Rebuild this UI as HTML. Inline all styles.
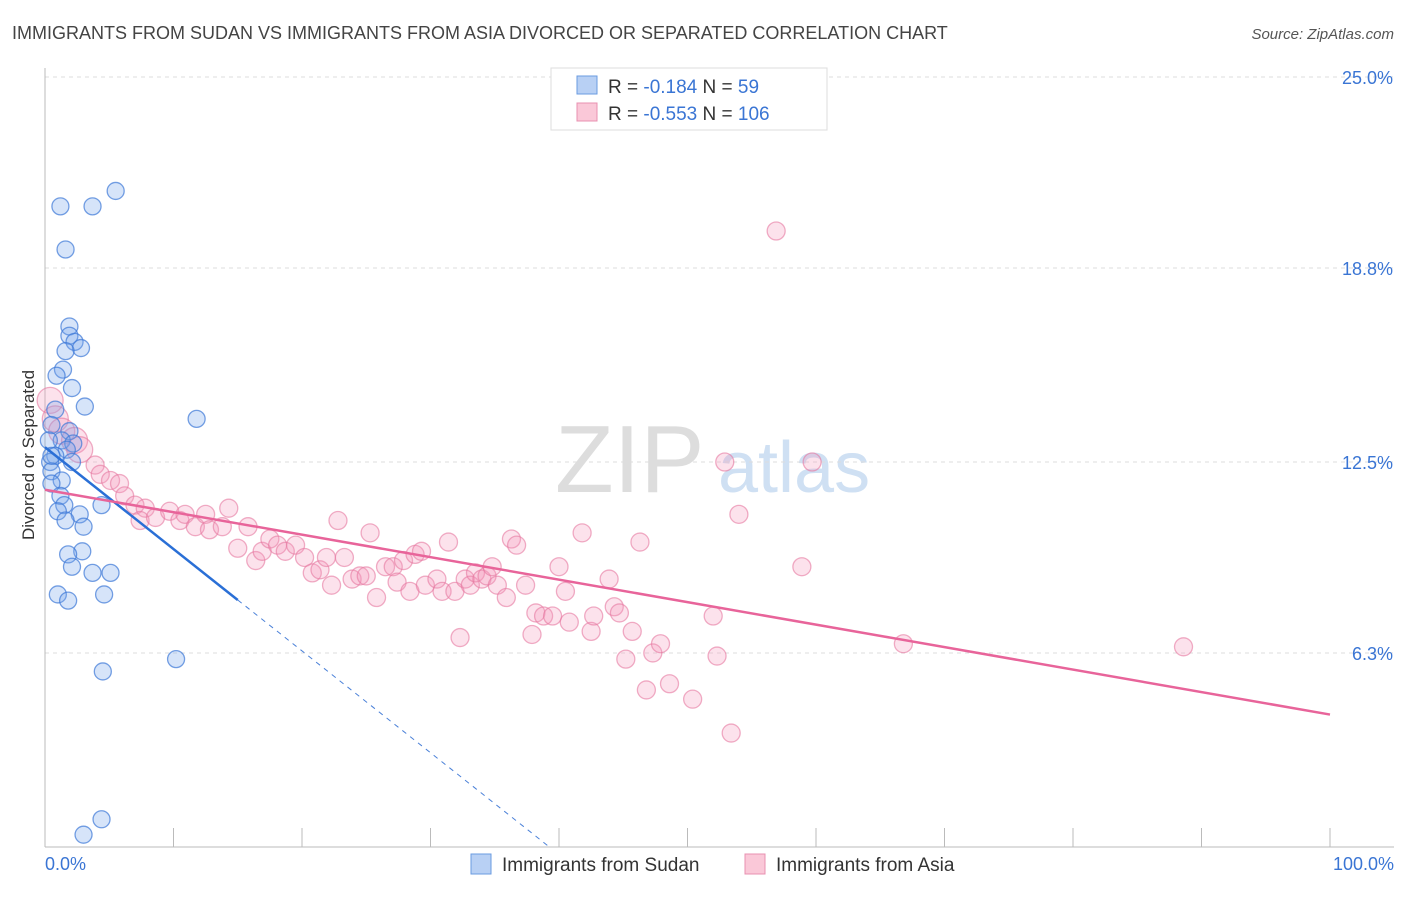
<!DOCTYPE html>
<html><head><meta charset="utf-8"><style>
body{margin:0;background:#fff;font-family:"Liberation Sans",sans-serif;}
svg text{font-family:"Liberation Sans",sans-serif;}
</style></head><body>
<svg id="chart" width="1406" height="892" xmlns="http://www.w3.org/2000/svg">
<text x="12" y="39" font-size="18" fill="#444">IMMIGRANTS FROM SUDAN VS IMMIGRANTS FROM ASIA DIVORCED OR SEPARATED CORRELATION CHART</text>
<text x="1394" y="39" font-size="15" fill="#555" text-anchor="end" font-style="italic">Source: ZipAtlas.com</text>
<text x="555" y="492" font-size="96" fill="#ddd" font-family="Liberation Serif">ZIP</text>
<text x="718" y="492" font-size="72" fill="#cfe0f3">atlas</text>
<g id="grid"></g>
<g id="axes"></g>
<g id="marks"></g>
<text transform="translate(34,455) rotate(-90)" font-size="17" fill="#333" text-anchor="middle">Divorced or Separated</text>
<g>
<rect x="551" y="68" width="276" height="62" fill="#fff" stroke="#ddd"/>
<rect x="577" y="76" width="20" height="18" fill="#b8d0f4" stroke="#6a9be0"/>
<rect x="577" y="103" width="20" height="18" fill="#fac8d8" stroke="#e890b0"/>
<text x="608" y="93" font-size="19" fill="#333">R = <tspan fill="#3a75d4">-0.184</tspan>   N = <tspan fill="#3a75d4"> 59</tspan></text>
<text x="608" y="120" font-size="19" fill="#333">R = <tspan fill="#3a75d4">-0.553</tspan>   N = <tspan fill="#3a75d4">106</tspan></text>
</g>
<g>
<rect x="471" y="854" width="20" height="20" fill="#b8d0f4" stroke="#6a9be0"/>
<text x="502" y="871" font-size="19" fill="#333">Immigrants from Sudan</text>
<rect x="745" y="854" width="20" height="20" fill="#fac8d8" stroke="#e890b0"/>
<text x="776" y="871" font-size="19" fill="#333">Immigrants from Asia</text>
</g>
</svg>
<script>
const yTicks=[25.0,18.8,12.5,6.3];
const yTickLabels=["25.0%","18.8%","12.5%","6.3%"];
const xTickLabels=["0.0%","100.0%"];
const sudanX=[5.5,1.2,3.7,1.6,1.9,1.9,2.3,2.8,1.6,1.4,0.9,2.1,3.1,0.8,0.5,1.9,1.3,2.2,1.7,0.8,0.4,2.1,0.5,1.3,0.5,1.2,1.5,1.0,4.4,2.7,1.6,3.0,2.9,1.8,2.1,3.7,5.1,1.0,1.8,4.6,11.8,10.2,4.5,4.4,3.0,0.3,0.5];
const sudanY=[21.3,20.8,20.8,19.4,16.9,16.6,16.4,16.2,16.1,15.5,15.3,14.9,14.3,14.2,13.7,13.5,13.2,13.1,12.9,12.7,12.5,12.5,12.2,11.9,11.8,11.4,11.1,10.9,11.1,10.8,10.6,10.4,9.6,9.5,9.1,8.9,8.9,8.2,8.0,8.2,13.9,6.1,5.7,0.9,0.4,13.2,12.7];
const asiaX=[56.9,52.9,59.7,54.0,58.9,66.8,88.6,0.4,0.8,1.3,2.3,2.7,3.9,4.3,5.1,5.8,6.2,7.0,7.8,7.4,8.6,9.7,10.5,10.9,11.7,12.5,12.8,13.8,14.3,15.0,15.8,16.4,16.9,17.5,18.1,18.7,19.5,20.2,20.8,21.4,21.9,22.3,22.8,23.3,23.9,24.5,25.0,25.3,25.8,26.5,27.1,27.4,27.9,28.4,28.8,29.3,29.6,30.5,30.9,31.4,31.9,32.3,32.7,33.1,33.5,34.0,34.4,34.8,35.2,35.9,36.3,36.7,37.4,37.9,38.2,38.8,39.5,40.0,40.5,40.8,41.8,42.5,42.7,43.9,44.3,44.7,45.2,45.7,46.3,46.8,47.3,47.9,48.6,50.4,52.0,52.3,53.4];
const asiaY=[20.0,12.5,12.5,10.8,9.1,6.6,6.5,14.5,13.9,13.5,13.2,12.9,12.4,12.1,11.9,11.8,11.4,11.1,11.0,10.6,10.7,10.9,10.6,10.8,10.4,10.8,10.3,10.4,11.0,9.7,10.4,9.3,9.6,10.0,9.8,9.6,9.8,9.4,8.9,9.0,9.4,8.5,10.6,9.4,8.7,8.8,8.8,10.2,8.1,9.1,9.1,8.6,9.3,8.3,9.5,9.6,8.5,8.7,8.3,9.9,8.3,6.8,8.7,8.5,8.9,8.7,8.8,9.1,8.5,8.1,10.0,9.8,8.5,6.9,7.6,7.5,7.5,9.1,8.3,7.3,10.2,7.0,7.5,8.7,7.8,7.6,6.1,7.0,9.9,5.1,6.3,6.6,5.3,4.8,7.5,6.2,3.7];
const sudanTrend=[0,12.98,15,8.02];
const asiaTrend=[0,11.6,100,4.3];
const X=v=>45+v*12.85, Y=v=>847-v*30.8;
const NS="http://www.w3.org/2000/svg";
function mk(tag,parent,attrs){const e=document.createElementNS(NS,tag);for(const k in attrs)e.setAttribute(k,attrs[k]);parent.appendChild(e);return e;}
const grid=document.getElementById('grid'),axes=document.getElementById('axes'),marks=document.getElementById('marks');
yTicks.forEach((t,i)=>{
 const l=mk('line',grid,{x1:45,x2:1394,y1:Y(t),y2:Y(t),stroke:'#ddd','stroke-dasharray':'4,4'});
 
 
 const tx=mk('text',axes,{x:1393,y:Y(t)+7,'font-size':18,fill:'#3a75d4','text-anchor':'end'});
 tx.textContent=yTickLabels[i];
 
 
});
const ax=mk('line',axes,{x1:45,x2:1394,y1:847,y2:847,stroke:'#bbb'});


const ay=mk('line',axes,{x1:45,x2:45,y1:68,y2:847,stroke:'#bbb'});


for(let i=1;i<=10;i++){
 const t=mk('line',axes,{x1:X(i*10),x2:X(i*10),y1:828,y2:847,stroke:'#bbb'});
 
 
}
[[0,'start',45],[100,'end',1394]].forEach((d,i)=>{
 const tx=mk('text',axes,{x:d[2],y:870,'font-size':18,fill:'#3a75d4','text-anchor':d[1]});
 tx.textContent=xTickLabels[i];
 
 
});
asiaX.forEach((v,i)=>{
 const c=mk('circle',marks,{cx:X(v),cy:Y(asiaY[i]),r:v<3?13:9,fill:'rgba(244,150,185,0.28)',stroke:'rgba(230,120,160,0.6)','stroke-width':1.3});
 
 
});
sudanX.forEach((v,i)=>{
 const c=mk('circle',marks,{cx:X(v),cy:Y(sudanY[i]),r:8.5,fill:'rgba(120,165,235,0.3)',stroke:'rgba(60,120,215,0.7)','stroke-width':1.3});
 
 
});
const slope=(sudanTrend[3]-sudanTrend[1])/(sudanTrend[2]-sudanTrend[0]);
const xEnd=-sudanTrend[1]/slope;
const ld=mk('line',marks,{x1:X(sudanTrend[2]),y1:Y(sudanTrend[3]),x2:X(xEnd),y2:Y(0),stroke:'#4a80d8','stroke-dasharray':'5,5','stroke-width':1});


const ls=mk('line',marks,{x1:X(sudanTrend[0]),y1:Y(sudanTrend[1]),x2:X(sudanTrend[2]),y2:Y(sudanTrend[3]),stroke:'#2a6fd6','stroke-width':2.5});


const la=mk('line',marks,{x1:X(asiaTrend[0]),y1:Y(asiaTrend[1]),x2:X(asiaTrend[2]),y2:Y(asiaTrend[3]),stroke:'#e8649a','stroke-width':2.5});


</script>
</body></html>
